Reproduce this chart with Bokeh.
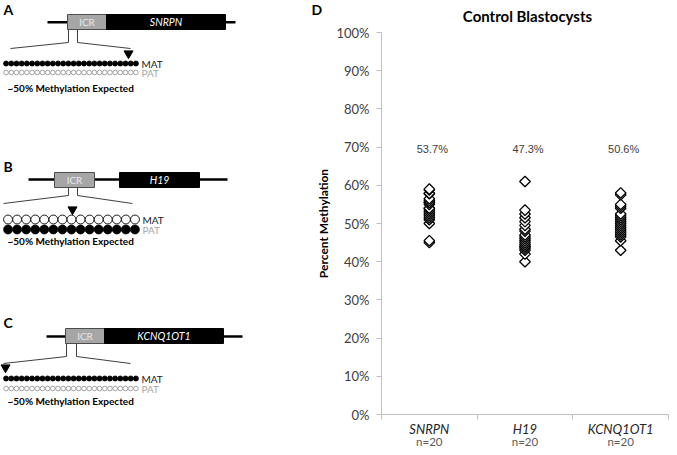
import numpy as np
from bokeh.plotting import figure
from bokeh.models import Range1d, FixedTicker, PrintfTickFormatter, LinearAxis
from bokeh.core.properties import value
from bokeh.embed import file_html
from bokeh.resources import INLINE

# ---------------- data ----------------
genes = ["SNRPN", "H19", "KCNQ1OT1"]
group_n = [20, 20, 20]
mean_pct = [53.7, 47.3, 50.6]
snrpn_pct = [59.0, 58.8, 57.9, 57.8, 56.5, 56.0, 55.5, 55.5, 55.0, 54.0,
             54.0, 53.5, 53.0, 52.5, 52.0, 51.5, 51.0, 50.0, 45.5, 45.0]
h19_pct = [61.0, 53.5, 52.5, 51.5, 50.5, 49.5, 48.5, 48.0, 47.0, 46.5,
           46.0, 45.5, 45.0, 44.5, 44.0, 43.5, 44.0, 43.0, 42.0, 40.0]
kcnq1ot1_pct = [58.0, 57.5, 55.0, 54.5, 54.0, 52.5, 52.0, 51.5, 51.0, 50.5,
                50.0, 49.5, 49.0, 48.5, 48.0, 47.5, 47.0, 46.5, 45.5, 43.0]
y_ticks = list(range(0, 101, 10))

panel_letters = ["A", "B", "C"]
cpg_count = [26, 15, 26]
mat_methylated = [True, False, True]
expected_text = "~50% Methylation Expected"

FONT = "Lato"
W, H = 669, 447

# scatter frame position inside the canvas (pixels)
FX0, FX1 = 381, 668       # left / right
FY0, FY1 = 32, 414        # top (100%) / bottom (0%)

ppx = (FX1 - FX0) / 3.0
ppy = (FY1 - FY0) / 100.0
cat_range = Range1d(0 - FX0 / ppx, 3 + (W - FX1) / ppx)
pct_range = Range1d(0 - (H - FY1) / ppy, 100 + FY0 / ppy)

p = figure(width=W, height=H, x_range=Range1d(0, W), y_range=Range1d(H, 0),
           output_backend="svg", toolbar_location=None,
           x_axis_location=None, y_axis_location=None,
           min_border=0, outline_line_color=None)
p.grid.visible = False
p.extra_x_ranges = {"cat": cat_range}
p.extra_y_ranges = {"pct": pct_range}

# ---------------- schematic diagrams (A, B, C) ----------------
geo = [
    dict(letter=(3, 9), line_y=21.7, line_x=(47, 235), icr=(67, 106), box=(106, 225), box_y=(14, 29),
         vx=(68, 77), vy=(29, 42), diag=((10, 48), (130, 48)), tri=(128, 53), mat_y=63, pat_y=72,
         dots=(3, 138), txt_y=87),
    dict(letter=(3, 166), line_y=179, line_x=(28, 227), icr=(54, 94), box=(119, 199), box_y=(172, 187),
         vx=(68, 77), vy=(187, 195), diag=((3, 203), (132, 203)), tri=(72, 209), mat_y=219, pat_y=229,
         dots=(3, 139), txt_y=240),
    dict(letter=(3, 322), line_y=336, line_x=(46, 242), icr=(65, 104), box=(104, 223), box_y=(328, 343),
         vx=(66, 76), vy=(343, 356), diag=((3, 363), (130, 363)), tri=(5, 367), mat_y=378, pat_y=388,
         dots=(3, 138), txt_y=400),
]

for i, g in enumerate(geo):
    p.text(x=[g["letter"][0]], y=[g["letter"][1]], text=[panel_letters[i]],
           text_font=value(FONT), text_font_style="bold", text_font_size="14px",
           text_baseline="middle", text_align="left", text_color="black")
    p.line(x=list(g["line_x"]), y=[g["line_y"]] * 2, line_color="black", line_width=2.5)
    p.quad(left=[g["icr"][0]], right=[g["icr"][1]], top=[g["box_y"][0]], bottom=[g["box_y"][1]],
           fill_color="#a6a6a6", line_color="#4d4d4d", line_width=1)
    p.quad(left=[g["box"][0]], right=[g["box"][1]], top=[g["box_y"][0]], bottom=[g["box_y"][1]],
           fill_color="black", line_color="black", line_width=1)
    cy = (g["box_y"][0] + g["box_y"][1]) / 2
    p.text(x=[(g["icr"][0] + g["icr"][1]) / 2], y=[cy], text=["ICR"],
           text_font=value(FONT), text_font_size="10px", text_color="#e8e8e8",
           text_align="center", text_baseline="middle")
    p.text(x=[(g["box"][0] + g["box"][1]) / 2], y=[cy], text=[genes[i]],
           text_font=value(FONT), text_font_style="italic", text_font_size="10.5px",
           text_color="white", text_align="center", text_baseline="middle")
    (dlx, dly), (drx, dry) = g["diag"]
    p.multi_line(xs=[[g["vx"][0], g["vx"][0], dlx], [g["vx"][1], g["vx"][1], drx]],
                 ys=[[g["vy"][0], g["vy"][1], dly], [g["vy"][0], g["vy"][1], dry]],
                 line_color="#404040", line_width=1)
    p.scatter(x=[g["tri"][0]], y=[g["tri"][1]], marker="inverted_triangle", size=9,
              fill_color="black", line_color="black")
    n = cpg_count[i]
    x0, x1 = g["dots"]
    step = (x1 - x0) / n
    xs = [x0 + step * (k + 0.5) for k in range(n)]
    filled = dict(fill_color="black", line_color="black", line_width=0.8)
    mat_open = dict(fill_color="white", line_color="black", line_width=0.9)
    pat_open = dict(fill_color="white", line_color="#8c8c8c", line_width=0.8)
    if mat_methylated[i]:
        p.scatter(x=xs, y=[g["mat_y"]] * n, marker="circle", size=step * 0.98, **filled)
        p.scatter(x=xs, y=[g["pat_y"]] * n, marker="circle", size=step * 0.9, **pat_open)
    else:
        p.scatter(x=xs, y=[g["mat_y"]] * n, marker="circle", size=step * 0.98, **mat_open)
        p.scatter(x=xs, y=[g["pat_y"]] * n, marker="circle", size=step * 0.98, **filled)
    p.text(x=[x1 + 3, x1 + 3], y=[g["mat_y"], g["pat_y"]], text=["MAT", "PAT"],
           text_font=value(FONT), text_font_size="10px", text_color=["#1a1a1a", "#a6a6a6"],
           text_align="left", text_baseline="middle")
    p.text(x=[7], y=[g["txt_y"]], text=[expected_text],
           text_font=value(FONT), text_font_style="bold", text_font_size="10px",
           text_color="black", text_align="left", text_baseline="middle")

# ---------------- panel D: scatter ----------------
p.text(x=[311], y=[9], text=["D"], text_font=value(FONT), text_font_style="bold",
       text_font_size="14px", text_baseline="middle", text_align="left", text_color="black")
p.text(x=[527], y=[15], text=["Control Blastocysts"], text_font=value(FONT),
       text_font_style="bold", text_font_size="15px", text_baseline="middle",
       text_align="center", text_color="black")

centers = [k + 0.5 for k in range(len(genes))]
axis_grey = "#bfbfbf"

yax = LinearAxis(y_range_name="pct", fixed_location=FX0, bounds=(0, 100),
                 ticker=FixedTicker(ticks=y_ticks), formatter=PrintfTickFormatter(format="%d%%"),
                 axis_line_color=axis_grey, major_tick_line_color=axis_grey,
                 major_tick_out=5, major_tick_in=0, minor_tick_line_color=None,
                 major_label_text_font=FONT, major_label_text_font_size="13px",
                 major_label_text_color="#404040", major_label_standoff=7,
                 axis_label="Percent Methylation", axis_label_text_font=FONT,
                 axis_label_text_font_style="bold", axis_label_text_font_size="12px",
                 axis_label_text_color="black", axis_label_standoff=2)
p.add_layout(yax, "left")

xt = FixedTicker(ticks=centers, minor_ticks=[0, 1, 2, 3])
xax = LinearAxis(x_range_name="cat", y_range_name="pct", fixed_location=0, bounds=(0, 3),
                 ticker=xt, major_label_overrides={c: g for c, g in zip(centers, genes)},
                 axis_line_color=axis_grey, major_tick_line_color=None, major_tick_out=0,
                 minor_tick_line_color=axis_grey, minor_tick_out=5, minor_tick_in=0,
                 major_label_standoff=1, major_label_text_font=FONT,
                 major_label_text_font_style="italic", major_label_text_font_size="13px",
                 major_label_text_color="#262626")
p.add_layout(xax, "below")

ax2 = LinearAxis(x_range_name="cat", y_range_name="pct", fixed_location=0,
                 ticker=FixedTicker(ticks=centers),
                 major_label_overrides={c: f"n={n}" for c, n in zip(centers, group_n)},
                 axis_line_color=None, major_tick_line_color=None, minor_tick_line_color=None,
                 major_tick_out=0, major_label_standoff=20,
                 major_label_text_font=FONT, major_label_text_font_size="11.5px",
                 major_label_text_color="#595959")
p.add_layout(ax2, "below")

for c, vals in zip(centers, [snrpn_pct, h19_pct, kcnq1ot1_pct]):
    ys = sorted(vals)
    p.scatter(x=[c] * len(ys), y=ys, marker="square", size=7.5, angle=np.pi / 4,
              fill_color="white", line_color="black", line_width=1.3,
              x_range_name="cat", y_range_name="pct")

p.text(x=centers, y=[69.4] * len(centers), text=[f"{m}%" for m in mean_pct],
       text_font=value("Liberation Sans"), text_font_size="11px", text_color="#404040",
       text_align="center", text_baseline="middle", x_offset=3,
       x_range_name="cat", y_range_name="pct")

open("out.html", "w").write(file_html(p, INLINE))
